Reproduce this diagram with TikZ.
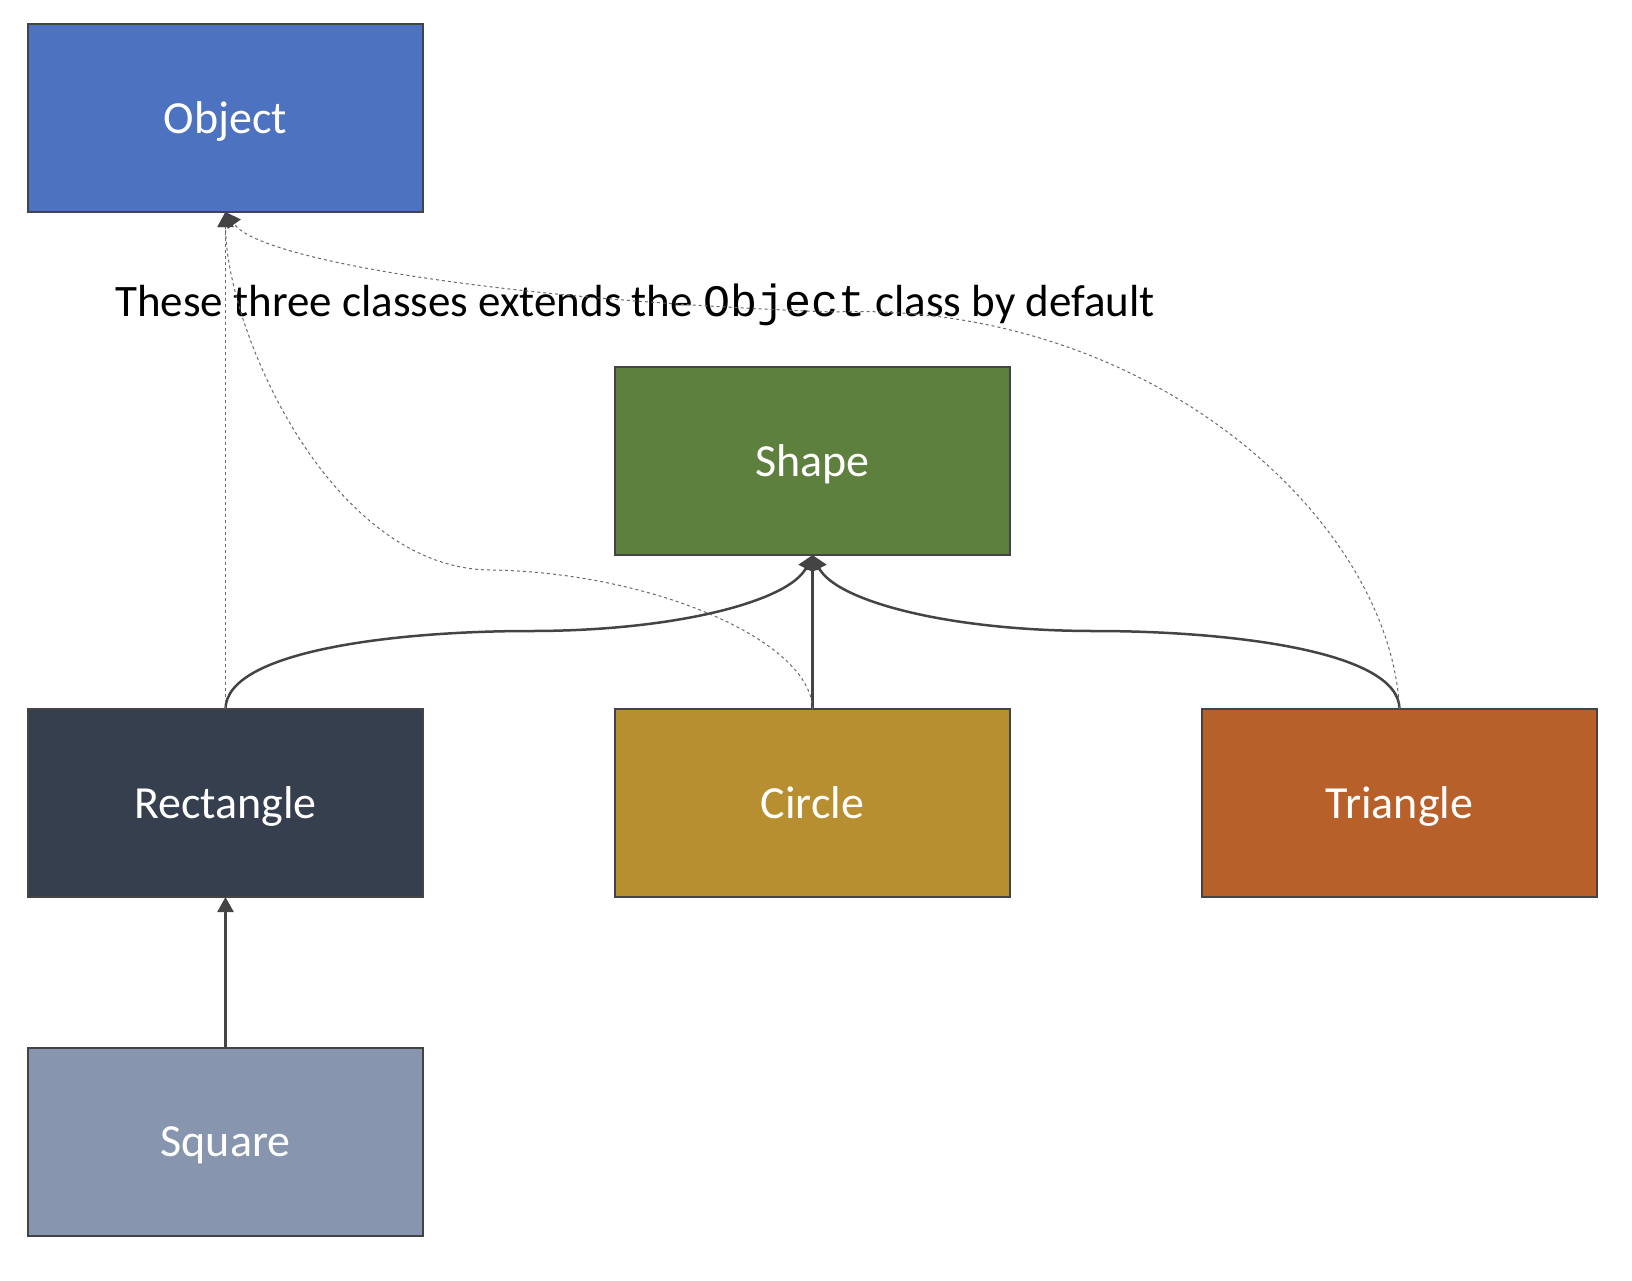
\documentclass[tikz,border=0pt]{standalone}
\usepackage{fontspec}
\setmainfont{Carlito}
\newfontfamily\codefont{Liberation Mono}
\usetikzlibrary{arrows.meta,positioning}

\definecolor{objectblue}{HTML}{4C72C0}
\definecolor{shapegreen}{HTML}{5E803E}
\definecolor{rectnavy}{HTML}{363F4E}
\definecolor{circlegold}{HTML}{B78F30}
\definecolor{trianglerust}{HTML}{B8602A}
\definecolor{squaregray}{HTML}{8796AE}
\definecolor{edgegray}{HTML}{444444}

\begin{document}
\begin{tikzpicture}[
  x=1pt, y=-1pt,
  font=\fontsize{46}{54}\selectfont,
  node distance=154pt and 192pt,
  classbox/.style={draw=edgegray, line width=2.5pt, minimum width=395pt, minimum height=188pt, inner sep=0pt, outer sep=0pt, text depth=0pt, text=white},
  inherit/.style={draw=edgegray, line width=2.5pt, -{Triangle[length=15pt, width=16pt]}},
  extends/.style={draw=edgegray!80, line width=1pt, dash pattern=on 3pt off 3pt, -{Triangle[length=15pt, width=16pt, color=edgegray]}}
]
\useasboundingbox (0,0) rectangle (1632,1280);

\node[classbox, fill=objectblue] (object) at (225.5,118) {Object};
\node[classbox, fill=rectnavy] (rectangle) at (225.5,803) {Rectangle};
\node[classbox, fill=circlegold, right=of rectangle] (circle) {Circle};
\node[classbox, fill=trianglerust, right=of circle] (triangle) {Triangle};
\node[classbox, fill=shapegreen, above=of circle] (shape) {Shape};
\node[classbox, fill=squaregray, below=151pt of rectangle] (square) {Square};

\node[font=\fontsize{45}{54}\selectfont] (note) at (635,305) {These three classes extends the {\codefont Object} class by default};

\coordinate (rsmid) at (530,631);
\coordinate (tsmid) at (1095,631);
\coordinate (cmid) at (490,570);
\coordinate (tomid) at (833,312);

% solid inheritance
\draw[inherit] (square) -- (rectangle);
\draw[inherit] (circle) -- (shape);
\draw[inherit] (rectangle.north) .. controls (226,650) and (400,631) .. (rsmid)
  .. controls (680,631) and (790,600) .. (shape.south);
\draw[inherit] (triangle.north) .. controls (1399,650) and (1225,631) .. (tsmid)
  .. controls (945,631) and (835,600) .. (shape.south);

% default Object parent
\draw[extends] (rectangle.north) -- (object.south);
\draw[extends] (circle.north) .. controls (811,640) and (650,572) .. (cmid)
  .. controls (330,568) and (226,330) .. (object.south);
\draw[extends] (triangle.north) .. controls (1390,520) and (1150,300) .. (tomid)
  .. controls (500,300) and (260,260) .. (object.south);
\end{tikzpicture}
\end{document}
